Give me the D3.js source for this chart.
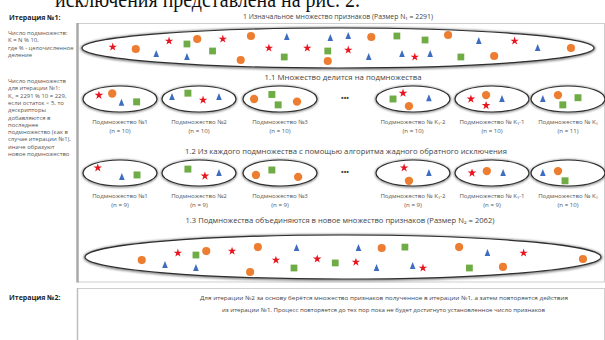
<!DOCTYPE html>
<html><head><meta charset="utf-8">
<script src="https://cdn.jsdelivr.net/npm/d3@7"></script>
<style>body{margin:0;background:#fff;overflow:hidden} svg{display:block}</style>
</head><body>
<svg id="c" width="605" height="340"></svg>
<script>
// ---------- data ----------
const headerText = "исключения представлена на рис. 2.";
const iter1Label = "Итерация №1:";
const iter2Label = "Итерация №2:";
const noteBlock1 = ["Число подмножеств:", "K = N % 10,", "где % - целочисленное", "деление"];
const noteBlock2 = ["Число подмножеств", "для итерации №1:", "K₁ = 2291 % 10 = 229,", "если остаток < 5, то", "дескрипторы", "добавляются в", "последнее", "подмножество (как в", "случае итерации №1),", "иначе образуют", "новое подмножество"];
const stepTitles = [
  "1 Изначальное множество признаков (Размер N₁ = 2291)",
  "1.1 Множество делится на подмножества",
  "1.2 Из каждого подмножества с помощью алгоритма жадного обратного исключения",
  "1.3 Подмножества объединяются в новое множество признаков (Размер N₂ = 2062)"
];
const subsetNames = ["Подмножество №1", "Подмножество №2", "Подмножество №3", "Подмножество № K₁-2", "Подмножество № K₁-1", "Подмножество № K₁"];
const splitSizes = [10, 10, 10, 10, 10, 11];
const reducedSizes = [9, 9, 9, 9, 9, 10];
const iter2Text = [
  "Для итерации №2 за основу берётся множество признаков полученное в итерации №1, а затем повторяется действия",
  "из итерации №1. Процесс повторяется до тех пор пока не будет достигнуто установленное число признаков"
];
// feature markers: [type, u (-100..100 along set), v (-10..10 across set)]
const initialSet = [
  ["star",-88,-0.5],["circle",-79,0.5],["tri",-71,3],["star",-66,-3.5],["square",-59,-2],["circle",-55,-4.5],
  ["tri",-59,4.5],["square",-49,1.5],["star",-45,-4.5],["circle",-38,6],["circle",-34,-6],["star",-27,0],
  ["tri",-20,-5.5],["square",-21,4.5],["star",-12,0],["square",-4,1.5],["circle",-4,6.5],["tri",-3,-5],
  ["star",4,1],["tri",4,-6],["tri",12,4.5],["circle",13,-5.5],["square",23,-6],["tri",25,3],["star",30,4.5],
  ["tri",36,3],["square",34,-4],["circle",43,-6.5],["square",48,4.5],["tri",55,-3.5],["circle",61,4],
  ["star",69,-3.5],["tri",78,0],["circle",91,0]
];
const finalSet = [
  ["circle",-78,1.4],["tri",-69,3.6],["star",-64,-1.8],["square",-57,-0.9],["circle",-53,-2.7],["tri",-57,5],
  ["star",-43,-2.7],["circle",-36,6.8],["circle",-33,-4.5],["star",-26,1.4],["square",-19,5],["tri",-18,-4.1],
  ["star",-10,0.9],["square",-3,2.7],["star",5,2.3],["tri",6,-4.1],["circle",15,-4.1],["tri",13,5],
  ["square",24,-4.5],["tri",27,4.1],["star",31,5],["circle",45,-4.5],["square",49,5],["tri",56,-1.8],
  ["circle",62,4.5],["star",70,-1.8],["circle",93,0.9]
];
// subset markers: [type, u (-10..10), v (-10..10)]
const splitSets = [
  [["star",-5.7,-2.9],["circle",-2.1,-4.2],["tri",0.4,2.9],["square",4.5,2.2]],
  [["tri",-7.3,-1.5],["square",-3,-4.5],["star",1.1,0.8],["tri",5.4,-1.5]],
  [["circle",-7,0],["square",-2.2,-3.5],["square",-0.5,4.5],["circle",4.6,2]],
  [["square",-5.4,0],["star",-2.7,-4.5],["circle",-1.1,5.5],["tri",4.3,-0.5]],
  [["star",-5.7,0],["circle",-1.6,-3],["star",-1.6,5],["tri",2.7,0]],
  [["tri",-6.8,0],["circle",-2.7,-3],["square",2.7,-1],["square",-1.4,4.5]]
];
const reducedSets = [
  [["star",-6,-4],["tri",0.5,3],["square",4.6,1.5]],
  [["square",-3,-3],["star",1.6,2.3],["tri",5.4,0]],
  [["circle",-6.5,1.5],["square",-2.2,-2.3],["circle",4.9,3]],
  [["star",-2.4,-4],["tri",4.3,0],["circle",-1.1,6]],
  [["star",-5.4,0],["circle",-1.4,-1.5],["tri",3,0]],
  [["tri",-6.8,0],["circle",-2.7,-1.5],["square",-0.8,6]]
];

// ---------- drawing ----------
const svg = d3.select("#c");
const FONT = "'Open Sans', Lato, 'Liberation Sans', sans-serif";
const colors = {star:"#e8141e", circle:"#ed7d31", tri:"#3d6cc0", square:"#6fac46"};

const defs = svg.append("defs");
const blur = defs.append("filter").attr("id","blur").attr("x","-10%").attr("y","-50%").attr("width","120%").attr("height","200%");
blur.append("feGaussianBlur").attr("stdDeviation",1.3);

// header (serif text cut by the top edge, as in the reference)
svg.append("text").attr("x",55).attr("y",7).attr("font-family","'Liberation Serif', 'DejaVu Serif', serif")
  .attr("font-size",23).attr("fill","#111").attr("textLength",305).attr("lengthAdjust","spacingAndGlyphs").text(headerText);

// panels
svg.append("rect").attr("x",77.5).attr("y",23.5).attr("width",527).attr("height",258.5).attr("fill","none").attr("stroke","#cfcfcf");
svg.append("line").attr("x1",77.5).attr("x2",77.5).attr("y1",23).attr("y2",282.5).attr("stroke","#a9a9a9").attr("stroke-width",2.5);
svg.append("rect").attr("x",77.5).attr("y",288.5).attr("width",527).attr("height",60).attr("fill","none").attr("stroke","#cfcfcf");
svg.append("line").attr("x1",77.5).attr("x2",77.5).attr("y1",288).attr("y2",340).attr("stroke","#bdbdbd").attr("stroke-width",1.5);

// left notes
svg.append("text").attr("x",9).attr("y",20).attr("font-family",FONT).attr("font-size",7).attr("font-weight","bold").attr("fill","#222").text(iter1Label);
svg.append("text").attr("x",9).attr("y",300).attr("font-family",FONT).attr("font-size",7).attr("font-weight","bold").attr("fill","#222").text(iter2Label);
function noteLines(lines, y0) {
  svg.append("g").selectAll("text").data(lines).join("text")
    .attr("x",8).attr("y",(d,i)=>y0 + i*7.3).attr("font-family",FONT).attr("font-size",5.9).attr("fill","#555").text(d=>d);
}
noteLines(noteBlock1, 35);
noteLines(noteBlock2, 83);

// titles
const titleY = [19, 80, 154, 223];
const titleX = [338, 343, 346, 340];
const titleW = [190, 157, 322, 309];
svg.append("g").selectAll("text").data(stepTitles).join("text")
  .attr("x",(d,i)=>titleX[i]).attr("y",(d,i)=>titleY[i]).attr("text-anchor","middle")
  .attr("font-family",FONT).attr("font-size",6.2).attr("fill","#444")
  .attr("textLength",(d,i)=>titleW[i]).attr("lengthAdjust","spacingAndGlyphs").text(d=>d);

// markers
const triPath = "M0,-4L2.8,3L-2.8,3Z";
function markerPath(t, k) {
  if (t === "tri") return triPath;
  const type = t === "star" ? d3.symbolStar : t === "circle" ? d3.symbolCircle : d3.symbolSquare;
  const size = t === "star" ? 22*k : t === "circle" ? 52*k : 46*k;
  return d3.symbol(type, size)();
}
function drawSet(cx, cy, rx, ry, items, du, dv, k, big) {
  const g = svg.append("g");
  const x = d3.scaleLinear().domain([-du, du]).range([cx - rx, cx + rx]);
  const y = d3.scaleLinear().domain([-dv, dv]).range([cy - ry, cy + ry]);
  g.append("ellipse").attr("cx",cx).attr("cy",cy+0.5).attr("rx",rx).attr("ry",ry)
    .attr("fill","none").attr("stroke","#8a8a8a").attr("stroke-width",big?3.2:2.4).attr("filter","url(#blur)");
  g.append("ellipse").attr("cx",cx).attr("cy",cy).attr("rx",rx).attr("ry",ry)
    .attr("fill","#fff").attr("stroke","#2e2e2e").attr("stroke-width",1.2);
  g.selectAll("path.m").data(items).join("path").attr("class","m")
    .attr("d",d=>markerPath(d[0], k))
    .attr("transform",d=>`translate(${x(d[1])},${y(d[2])})`)
    .attr("fill",d=>colors[d[0]]);
}
drawSet(338, 48, 256, 20, initialSet, 100, 10, 1, true);
drawSet(343, 257, 258, 22, finalSet, 100, 10, 1, true);

const subCenters = [120, 199, 280, 413, 492, 568];
const rowY = [99, 173];
const labelY = [[124, 132.5], [198, 206.5]];
[splitSets, reducedSets].forEach((sets, r) => {
  const sizes = r === 0 ? splitSizes : reducedSizes;
  sets.forEach((items, i) => {
    drawSet(subCenters[i], rowY[r], 37, 13, items, 10, 10, 1.05, false);
    svg.append("text").attr("x",subCenters[i]).attr("y",labelY[r][0]).attr("text-anchor","middle")
      .attr("font-family",FONT).attr("font-size",6.1).attr("fill","#555").text(subsetNames[i]);
    svg.append("text").attr("x",subCenters[i]).attr("y",labelY[r][1]).attr("text-anchor","middle")
      .attr("font-family",FONT).attr("font-size",6.1).attr("fill","#555").text(`(n = ${sizes[i]})`);
  });
  svg.append("text").attr("x",345).attr("y",rowY[r]+2).attr("text-anchor","middle")
    .attr("font-family",FONT).attr("font-size",7).attr("font-weight","bold").attr("fill","#444").text("•••");
});

// iteration 2 text
svg.append("g").selectAll("text").data(iter2Text).join("text")
  .attr("x",(d,i)=>[384, 383.5][i]).attr("y",(d,i)=>[300, 312][i]).attr("text-anchor","middle")
  .attr("font-family",FONT).attr("font-size",5.8).attr("fill","#444")
  .attr("textLength",(d,i)=>[368, 323][i]).attr("lengthAdjust","spacingAndGlyphs").text(d=>d);
</script>
</body></html>
